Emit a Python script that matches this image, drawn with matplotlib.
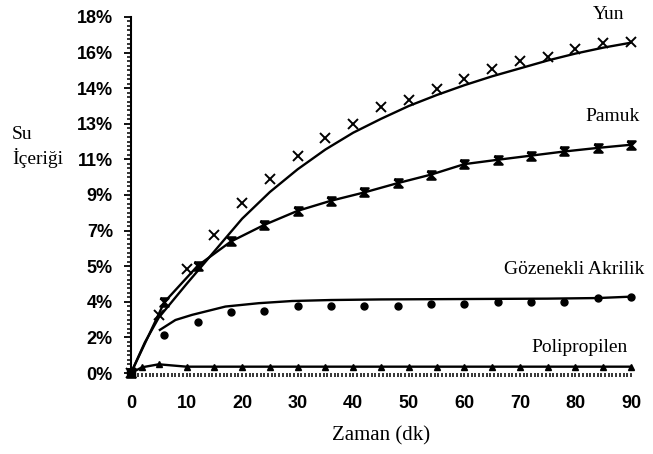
import matplotlib.pyplot as plt
from matplotlib.path import Path
from matplotlib.ticker import FixedLocator, AutoMinorLocator, FuncFormatter

# measured water content (%) over time (min)
yun_t = [0, 5, 10, 15, 20, 25, 30, 35, 40, 45, 50, 55, 60, 65, 70, 75, 80, 85, 90]
yun_su = [0, 2.94, 5.25, 6.96, 8.59, 9.82, 10.95, 11.88, 12.59, 13.43, 13.82,
          14.38, 14.87, 15.38, 15.76, 15.98, 16.39, 16.66, 16.72]

# fitted curve for wool
yun_fit_t = [0, 2.5, 5, 10, 15, 20, 25, 30, 35, 40, 45, 50, 55, 60, 65, 70, 75, 80, 85, 90]
yun_fit_su = [0, 1.55, 2.8, 4.5, 6.15, 7.8, 9.15, 10.3, 11.3, 12.15, 12.85, 13.5,
              14.05, 14.55, 15.0, 15.4, 15.8, 16.15, 16.45, 16.7]

pamuk_t = [0, 6, 12, 18, 24, 30, 36, 42, 48, 54, 60, 66, 72, 78, 84, 90]
pamuk_su = [0, 3.58, 5.42, 6.65, 7.49, 8.2, 8.71, 9.13, 9.6, 10.03, 10.56,
            10.78, 10.99, 11.2, 11.38, 11.54]

akrilik_t = [0, 6, 12, 18, 24, 30, 36, 42, 48, 54, 60, 66, 72, 78, 84, 90]
akrilik_su = [0, 1.92, 2.57, 3.07, 3.14, 3.39, 3.39, 3.39, 3.39, 3.49, 3.49,
              3.58, 3.58, 3.58, 3.78, 3.86]

akrilik_fit_t = [5.2, 8, 11, 14, 17, 23, 29, 36, 45, 60, 75, 84, 90]
akrilik_fit_su = [2.18, 2.68, 2.94, 3.15, 3.36, 3.53, 3.64, 3.69, 3.72, 3.74, 3.76, 3.79, 3.86]

pp_t = [0, 2, 5, 10, 15, 20, 25, 30, 35, 40, 45, 50, 55, 60, 65, 70, 75, 80, 85, 90]
pp_su = [0, 0.29, 0.44, 0.32, 0.32, 0.32, 0.32, 0.32, 0.32, 0.32, 0.32, 0.32,
         0.32, 0.32, 0.32, 0.32, 0.32, 0.32, 0.32, 0.32]

y_ticks = [0, 1.8, 3.6, 5.4, 7.2, 9, 10.8, 12.6, 14.4, 16.2, 18]
x_ticks = [0, 10, 20, 30, 40, 50, 60, 70, 80, 90]

serif = 'Liberation Serif'
sans = 'Liberation Sans'

# hourglass-ish cross used for cotton
bowtie = Path([(-1, 1), (1, 1), (-1, -1), (1, -1), (-1, 1)],
              [Path.MOVETO, Path.LINETO, Path.LINETO, Path.LINETO, Path.LINETO])

fig = plt.figure(figsize=(6.53, 4.54), dpi=100)
ax = fig.add_axes([0.2006, 0.1784, 0.7657, 0.7842])

ax.plot(yun_fit_t, yun_fit_su, color='black', lw=1.7)
ax.plot(yun_t, yun_su, ls='none', marker='x', ms=7, mew=1.4, color='black', clip_on=False)

ax.plot(pamuk_t, pamuk_su, color='black', lw=1.7, marker=bowtie, ms=6,
        mew=1.6, mfc='black', clip_on=False)

ax.plot(akrilik_fit_t, akrilik_fit_su, color='black', lw=1.7)
ax.plot(akrilik_t, akrilik_su, ls='none', marker='o', ms=5, color='black', clip_on=False)

ax.plot(pp_t, pp_su, color='black', lw=1.7, marker='^', ms=5, clip_on=False)
ax.plot([0], [0], marker='s', ms=6, color='black', clip_on=False)

ax.set_xlim(0, 90)
ax.set_ylim(0, 18)

ax.spines['top'].set_visible(False)
ax.spines['right'].set_visible(False)
ax.spines['bottom'].set_visible(False)
ax.spines['left'].set_linewidth(1.5)

ax.yaxis.set_major_locator(FixedLocator(y_ticks))
ax.yaxis.set_minor_locator(AutoMinorLocator(8))
ax.yaxis.set_major_formatter(FuncFormatter(lambda v, p: '{:.0f}%'.format(v)))
ax.xaxis.set_major_locator(FixedLocator(x_ticks))
ax.xaxis.set_minor_locator(AutoMinorLocator(15))

ax.tick_params(axis='y', which='major', length=5, width=1.3, pad=8)
ax.tick_params(axis='y', which='minor', length=3, width=1.1)
ax.tick_params(axis='x', which='major', length=3, width=1.1, pad=13)
ax.tick_params(axis='x', which='minor', length=3, width=1.1)
for lab in ax.get_xticklabels() + ax.get_yticklabels():
    lab.set_fontfamily(sans)
    lab.set_fontsize(13)
    lab.set_fontweight('bold')

ax.set_xlabel('Zaman (dk)', fontfamily=serif, fontsize=15, labelpad=10)
fig.text(12 / 653, 1 - 147 / 454, 'Su\nİçeriği', fontfamily=serif, fontsize=14,
         ha='left', va='center', linespacing=1.3)

ax.text(86.0, 18.15, 'Yun', fontfamily=serif, fontsize=14, ha='center', va='center', clip_on=False)
ax.text(86.6, 12.96, 'Pamuk', fontfamily=serif, fontsize=14, ha='center', va='center')
ax.text(79.7, 5.23, 'Gözenekli Akrilik', fontfamily=serif, fontsize=14, ha='center', va='center')
ax.text(80.7, 1.30, 'Polipropilen', fontfamily=serif, fontsize=14, ha='center', va='center')

fig.savefig('out.png', dpi=100)
